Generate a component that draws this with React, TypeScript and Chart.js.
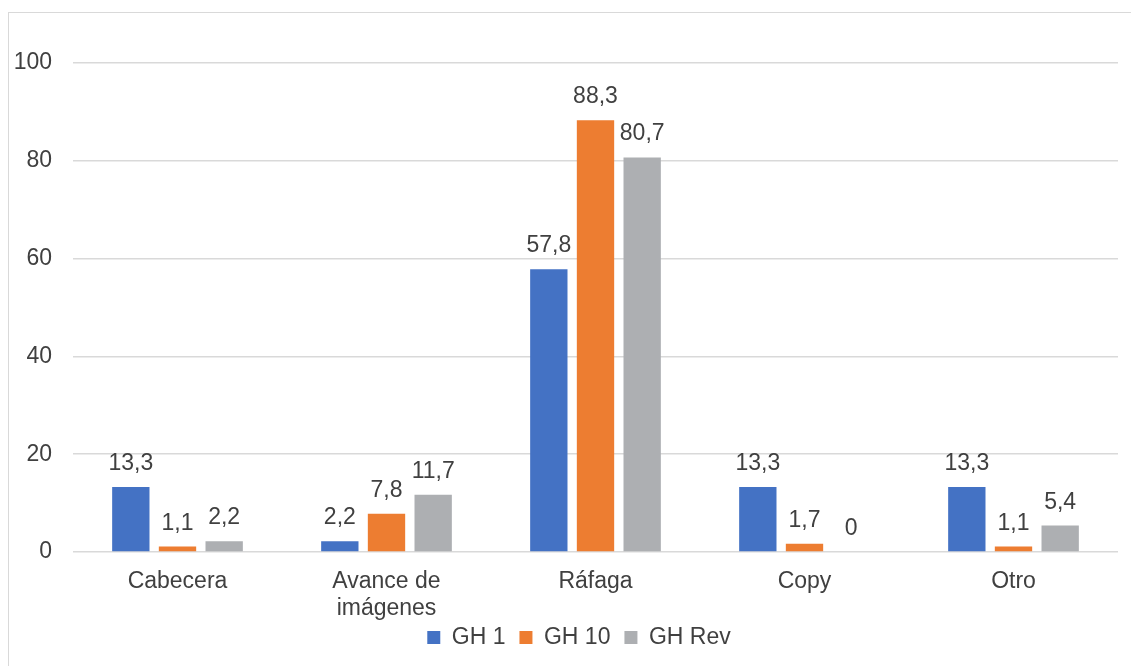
import React, { useEffect, useRef } from "react";
import { Chart, registerables } from "chart.js";

Chart.register(...registerables);

const categories: (string | string[])[] = ["Cabecera", ["Avance de", "imágenes"], "Ráfaga", "Copy", "Otro"];
const seriesNames = ["GH 1", "GH 10", "GH Rev"];
const gh1 = [13.3, 2.2, 57.8, 13.3, 13.3];
const gh10 = [1.1, 7.8, 88.3, 1.7, 1.1];
const ghRev = [2.2, 11.7, 80.7, 0, 5.4];
const colors = ["#4472C4", "#ED7D31", "#ADAFB2"];
const yTicks = [0, 20, 40, 60, 80, 100];

const FONT = "'Liberation Sans', Arial, sans-serif";
const TEXT = "#404040";

const dataLabels = {
  id: "dataLabels",
  afterDatasetsDraw(chart: any) {
    const ctx = chart.ctx;
    ctx.save();
    ctx.font = `23px ${FONT}`;
    ctx.fillStyle = TEXT;
    ctx.textAlign = "center";
    ctx.textBaseline = "alphabetic";
    chart.data.datasets.forEach((ds: any, di: number) => {
      const meta = chart.getDatasetMeta(di);
      meta.data.forEach((el: any, i: number) => {
        const v = ds.data[i];
        const txt = String(v).replace(".", ",");
        ctx.fillText(txt, el.x, el.y - 17);
      });
    });
    ctx.restore();
  },
};

// place the legend where the reference has it (overlapping the x-axis box's empty lower part)
const legendPlacer = {
  id: "legendPlacer",
  afterLayout(chart: any) {
    const l = chart.legend;
    if (!l) return;
    const dy = 612 - l.top;
    l.top += dy;
    l.bottom += dy;
    l.left += 20;
    l.right += 20;
  },
};

export default function App() {
  const ref = useRef<HTMLCanvasElement>(null);
  useEffect(() => {
    const chart = new Chart(ref.current!, {
      type: "bar",
      data: {
        labels: categories,
        datasets: [gh1, gh10, ghRev].map((d, i) => ({
          label: seriesNames[i],
          data: d,
          backgroundColor: colors[i],
          borderWidth: 0,
          categoryPercentage: 0.67,
          barPercentage: 0.8,
        })),
      },
      options: {
        animation: false,
        responsive: false,
        maintainAspectRatio: false,
        layout: { padding: { top: 63, right: 13, left: 0, bottom: -5 } },
        plugins: {
          tooltip: { enabled: false },
          legend: {
            position: "bottom",
            labels: {
              boxWidth: 13,
              boxHeight: 13,
              padding: 14,
              color: TEXT,
              font: { family: FONT, size: 23 },
            },
          },
        },
        scales: {
          x: {
            grid: { display: false },
            border: { display: false },
            ticks: {
              color: TEXT,
              font: { family: FONT, size: 23, lineHeight: 1.17 },
              padding: 8,
              maxRotation: 0,
              autoSkip: false,
            },
            afterFit(scale: any) {
              scale.height = 72;
            },
          },
          y: {
            min: 0,
            max: 100,
            afterBuildTicks(scale: any) {
              scale.ticks = yTicks.map((v) => ({ value: v }));
            },
            grid: { color: "#D9D9D9", lineWidth: 1.5, drawTicks: false },
            border: { display: false },
            ticks: {
              color: TEXT,
              font: { family: FONT, size: 23 },
              padding: 21,
            },
            afterFit(scale: any) {
              scale.width = 73;
            },
          },
        },
      },
      plugins: [dataLabels, legendPlacer],
    });
    return () => chart.destroy();
  }, []);
  return (
    <div style={{ position: "fixed", left: 0, top: 0, width: 1131, height: 666, overflow: "hidden", background: "#fff" }}>
      <div style={{ position: "absolute", left: 8, top: 12, width: 1200, height: 700, border: "1px solid #D9D9D9" }} />
      <canvas ref={ref} width={1131} height={666} style={{ position: "absolute", left: 0, top: 0, width: 1131, height: 666 }} />
    </div>
  );
}
